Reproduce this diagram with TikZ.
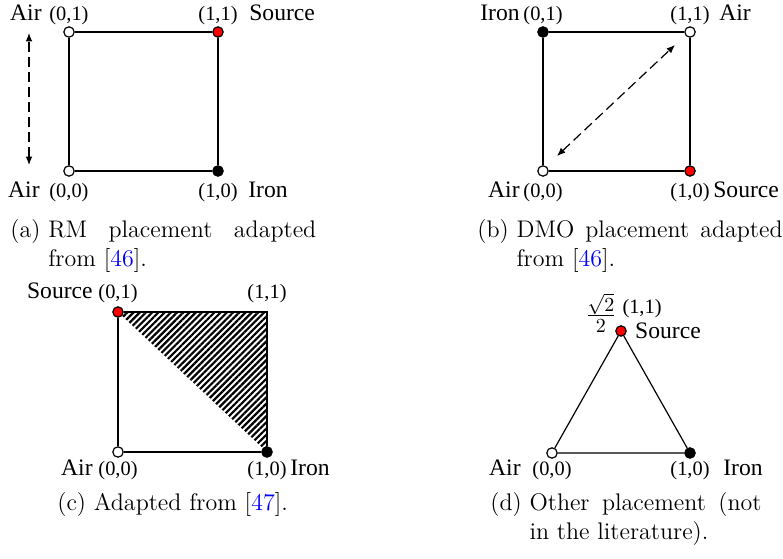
\documentclass[tikz,border=0pt]{standalone}
\usepackage{fontspec}
\usetikzlibrary{arrows.meta,positioning,patterns.meta,backgrounds}
\newfontfamily\tnr{Liberation Serif}
\newcommand{\refnum}[1]{[\textcolor{blue}{#1}]}
\newcommand{\subcap}[3]{(#1)\ \parbox[t]{#2}{#3}}

\begin{document}
\begin{tikzpicture}[x=0.5pt,y=0.5pt,
    vtx/.style={circle,draw,line width=0.6pt,minimum size=5.2pt,inner sep=0pt},
    crd/.style={font=\tnr\fontsize{10.2}{12}\selectfont,inner sep=1pt},
    nm/.style={font=\tnr\fontsize{11.8}{14}\selectfont,inner sep=0pt},
    side/.style={line width=0.6pt},
    dbl/.style={{Latex[length=4.2pt,width=3.4pt]}-{Latex[length=4.2pt,width=3.4pt]},line width=0.6pt,dash pattern=on 5pt off 2.5pt},
    capt/.style={font=\fontsize{12}{14.5}\selectfont,inner sep=0pt,anchor=north west},
]
\useasboundingbox (0,0) rectangle (783,558);

% (a) RM placement
\node[vtx,fill=white] (a01) at (69,526) {};
\node[vtx,fill=red] (a11) at (218,526) {};
\node[vtx,fill=white] (a00) at (69,387) {};
\node[vtx,fill=black] (a10) at (218,387) {};
\draw[side] (a01) -- (a11) -- (a10) -- (a00) -- (a01);
\node[crd,above=-0.5pt of a01] (a01c) {(0,1)};
\node[nm,base left=2.5pt of a01c] {Air};
\node[crd,above=-0.5pt of a11] (a11c) {(1,1)};
\node[nm,base right=4.5pt of a11c] {Source};
\node[crd,below=2pt of a00] (a00c) {(0,0)};
\node[nm,base left=3.5pt of a00c] {Air};
\node[crd,below=2pt of a10] (a10c) {(1,0)};
\node[nm,base right=4pt of a10c] {Iron};
\coordinate (aup) at (29,525);
\coordinate (adn) at (29,393);
\draw[dbl] (adn) -- (aup);

% (b) DMO placement
\node[vtx,fill=black] (b01) at (543,526) {};
\node[vtx,fill=white] (b11) at (690,526) {};
\node[vtx,fill=white] (b00) at (543,387) {};
\node[vtx,fill=red] (b10) at (690,387) {};
\draw[side] (b01) -- (b11) -- (b10) -- (b00) -- (b01);
\node[crd,above=-0.5pt of b01] (b01c) {(0,1)};
\node[nm,base left=0.5pt of b01c] {Iron};
\node[crd,above=-0.5pt of b11] (b11c) {(1,1)};
\node[nm,base right=3.5pt of b11c] {Air};
\node[crd,below=2pt of b00] (b00c) {(0,0)};
\node[nm,base left=0.5pt of b00c] {Air};
\node[crd,below=2pt of b10] (b10c) {(1,0)};
\node[nm,base right=0.5pt of b10c] {Source};
\coordinate (blo) at (557,402);
\coordinate (bhi) at (675,513);
\draw[dbl] (blo) -- (bhi);

% (c) hatched half
\coordinate (c11) at (267,246);
\node[vtx,fill=red] (c01) at (118,246) {};
\node[vtx,fill=white] (c00) at (118,106) {};
\node[vtx,fill=black] (c10) at (267,106) {};
\begin{scope}[on background layer]
\fill[pattern={Lines[angle=45,distance=2.2pt,line width=1.1pt]}] (c01.center) -- (c11) -- (c10.center) -- cycle;
\end{scope}
\draw[side] (c01) -- (c11) -- (c10) -- (c00) -- (c01);
\node[crd,above=0.7pt of c01] (c01c) {(0,1)};
\node[nm,base left=1.5pt of c01c] {Source};
\node[crd,above=3.3pt of c11] (c11c) {(1,1)};
\node[crd,below=0.4pt of c00] (c00c) {(0,0)};
\node[nm,base left=1.5pt of c00c] {Air};
\node[crd,below=0.4pt of c10] (c10c) {(1,0)};
\node[nm,base right=0.5pt of c10c] {Iron};

% (d) triangle
\node[vtx,fill=red] (d11) at (621,227) {};
\node[vtx,fill=white] (d00) at (552,105) {};
\node[vtx,fill=black] (d10) at (690,105) {};
\draw[side] (d00) -- (d10) -- (d11) -- (d00);
\node[crd,above right=3.5pt and -2.5pt of d11] (d11c) {(1,1)};
\node[crd,font=\tnr\fontsize{14}{16}\selectfont,left=0.5pt of d11c,yshift=-2.5pt] {$\frac{\sqrt{2}}{2}$};
\node[nm,right=4pt of d11] {Source};
\node[crd,below=0pt of d00] (d00c) {(0,0)};
\node[nm,base left=4.5pt of d00c] {Air};
\node[crd,below=0pt of d10] (d10c) {(1,0)};
\node[nm,base right=5.5pt of d10c] {Iron};

% Captions
\node[capt] (capa) at (10,339) {\subcap{a}{134pt}{RM placement adapted\linebreak from \refnum{46}.}};
\node[capt] (capb) at (477,339) {\subcap{b}{133pt}{DMO placement adapted\linebreak from \refnum{46}.}};
\node[capt] (capc) at (57,66) {(c) Adapted from \refnum{47}.};
\node[capt] (capd) at (490,66) {\subcap{d}{116pt}{Other placement (not\linebreak in the literature).}};
\end{tikzpicture}
\end{document}
